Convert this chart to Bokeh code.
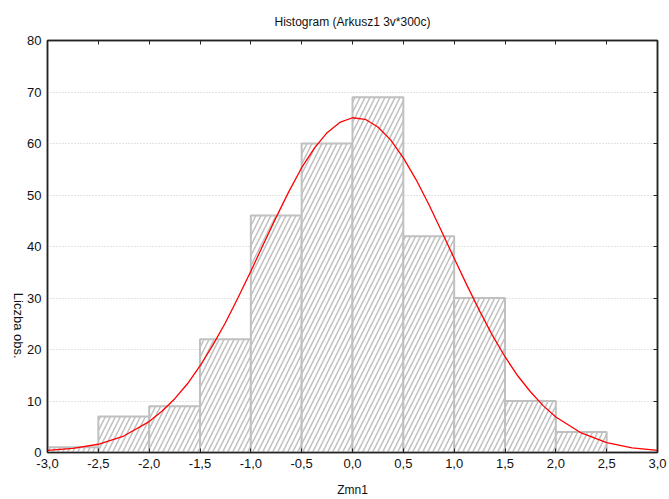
import math
from bokeh.plotting import figure
from bokeh.models import FixedTicker, LinearAxis, Range1d, ColumnDataSource
from bokeh.embed import file_html
from bokeh.resources import INLINE

# Data
bin_left = [-3.0, -2.5, -2.0, -1.5, -1.0, -0.5, 0.0, 0.5, 1.0, 1.5, 2.0]
bin_right = [-2.5, -2.0, -1.5, -1.0, -0.5, 0.0, 0.5, 1.0, 1.5, 2.0, 2.5]
counts = [1, 7, 9, 22, 46, 60, 69, 42, 30, 10, 4]

curve_x = [-3.0, -2.75, -2.5, -2.25, -2.0, -1.875, -1.75, -1.625, -1.5, -1.375, -1.25, -1.125,
           -1.0, -0.875, -0.75, -0.625, -0.5, -0.375, -0.25, -0.125, 0.0, 0.125, 0.25, 0.375,
           0.5, 0.625, 0.75, 0.875, 1.0, 1.125, 1.25, 1.375, 1.5, 1.625, 1.75, 1.875, 2.0,
           2.25, 2.5, 2.75, 3.0]
curve_y = [0.4, 0.8, 1.6, 3.2, 6.0, 8.0, 10.4, 13.3, 16.8, 20.8, 25.2, 30.1,
           35.2, 40.5, 45.7, 50.7, 55.3, 59.1, 62.1, 64.1, 65.0, 64.7, 63.2, 60.7,
           57.2, 53.0, 48.2, 43.0, 37.7, 32.5, 27.5, 22.8, 18.6, 14.9, 11.8, 9.1, 6.9,
           3.8, 1.9, 0.9, 0.4]

x_ticks = [-3.0, -2.5, -2.0, -1.5, -1.0, -0.5, 0.0, 0.5, 1.0, 1.5, 2.0, 2.5, 3.0]
x_tick_labels = ["-3,0", "-2,5", "-2,0", "-1,5", "-1,0", "-0,5", "0,0", "0,5", "1,0", "1,5", "2,0", "2,5", "3,0"]
y_ticks = [0, 10, 20, 30, 40, 50, 60, 70, 80]

title_text = "Histogram (Arkusz1 3v*300c)"
x_label = "Zmn1"
y_label = "Liczba obs."

FONT = "Liberation Sans"

p = figure(width=669, height=499, output_backend="svg", toolbar_location=None,
           x_range=Range1d(-3, 3), y_range=Range1d(0, 80),
           min_border_left=47, min_border_right=12, min_border_top=40, min_border_bottom=46,
           x_axis_location=None, y_axis_location=None, title=title_text)
p.title.text_font = FONT
p.title.text_font_size = "12px"
p.title.text_font_style = "normal"
p.title.text_color = "#111111"
p.title.align = "center"
p.title.standoff = 23

p.outline_line_color = "#333333"
p.outline_line_width = 1.5
p.background_fill_color = "white"
p.border_fill_color = "white"

p.xgrid.visible = False
p.ygrid.ticker = FixedTicker(ticks=y_ticks)
p.ygrid.grid_line_color = "#c8c8c8"
p.ygrid.grid_line_dash = "1 2"
p.ygrid.grid_line_width = 1

src = ColumnDataSource(dict(left=bin_left, right=bin_right, top=counts, bottom=[0] * len(counts)))
p.quad(left="left", right="right", top="top", bottom="bottom", source=src,
       fill_color="white", line_color="#c0c0c0", line_width=2,
       hatch_pattern="/", hatch_color="#c0c0c0", hatch_scale=10, hatch_weight=1.5)

p.line(curve_x, curve_y, line_color="#ff0000", line_width=1.3)

xlabels = {t: l for t, l in zip(x_ticks, x_tick_labels)}

bottom = LinearAxis(ticker=FixedTicker(ticks=x_ticks), major_label_overrides=xlabels,
                    axis_label=x_label)
left = LinearAxis(ticker=FixedTicker(ticks=y_ticks))
top = LinearAxis(ticker=FixedTicker(ticks=x_ticks), major_label_text_font_size="0px")
right = LinearAxis(ticker=FixedTicker(ticks=y_ticks), major_label_text_font_size="0px")

for ax in (bottom, left, top, right):
    ax.axis_line_color = "#222222"
    ax.axis_line_width = 1.5
    ax.major_tick_line_color = "#222222"
    ax.minor_tick_line_color = None
    ax.major_label_text_font = FONT
    ax.major_label_text_color = "#111111"
bottom.major_label_text_font_size = "13px"
left.major_label_text_font_size = "13px"
bottom.major_tick_in = 4
bottom.major_tick_out = 0
bottom.major_label_standoff = 6
bottom.axis_label_text_font = FONT
bottom.axis_label_text_font_size = "12px"
bottom.axis_label_text_font_style = "normal"
bottom.axis_label_text_color = "#111111"
bottom.axis_label_standoff = 12
left.major_tick_in = 0
left.major_tick_out = 0
left.major_label_standoff = 6
top.major_tick_in = 4
top.major_tick_out = 0
top.major_label_standoff = 0
right.major_tick_in = 4
right.major_tick_out = 0
right.major_label_standoff = 0

# extra left axis carrying only the top-to-bottom rotated label, anchored low on the frame
ylab_axis = LinearAxis(ticker=FixedTicker(ticks=[]), axis_label=y_label + "\u00a0" * 26,
                       major_label_text_font_size="0px")
ylab_axis.axis_line_color = None
ylab_axis.major_tick_line_color = None
ylab_axis.minor_tick_line_color = None
ylab_axis.major_tick_in = 0
ylab_axis.major_tick_out = 0
ylab_axis.major_label_standoff = 0
ylab_axis.axis_label_standoff = 6
ylab_axis.axis_label_align = "start"
ylab_axis.axis_label_orientation = -math.pi / 2
ylab_axis.axis_label_text_font = FONT
ylab_axis.axis_label_text_font_size = "13px"
ylab_axis.axis_label_text_font_style = "normal"
ylab_axis.axis_label_text_color = "#111111"

p.add_layout(bottom, "below")
p.add_layout(left, "left")
p.add_layout(ylab_axis, "left")
p.add_layout(top, "above")
p.add_layout(right, "right")

open("out.html", "w").write(file_html(p, INLINE))
